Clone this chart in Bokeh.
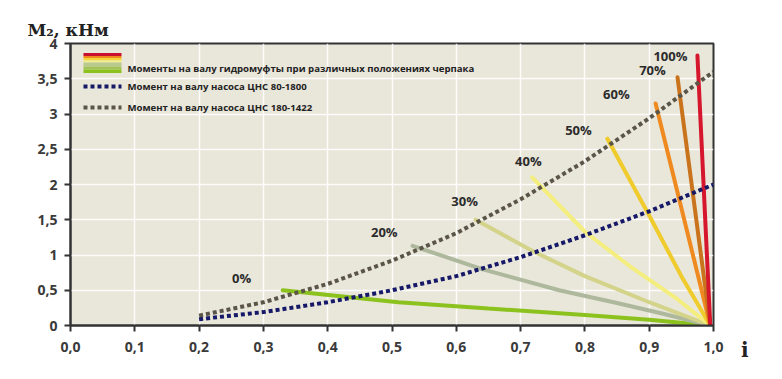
from bokeh.plotting import figure
from bokeh.models import ColumnDataSource, FixedTicker, Label, Range1d, Div
from bokeh.layouts import row
from bokeh.embed import file_html
from bokeh.resources import INLINE
from bokeh.core.properties import value

# ---------------- data ----------------
pump_i = [0.2, 0.3, 0.4, 0.5, 0.6, 0.7, 0.8, 0.9, 1.0]
pump_80_1800 = [0.09, 0.19, 0.33, 0.50, 0.70, 0.97, 1.28, 1.62, 2.00]
pump_180_1422 = [0.14, 0.33, 0.59, 0.92, 1.31, 1.79, 2.33, 2.94, 3.60]

scoop_names = ["0%", "20%", "30%", "40%", "50%", "60%", "70%", "100%"]
scoop_i = [
    [0.33, 0.51, 0.65, 0.80, 0.90, 0.995],
    [0.532, 0.64, 0.76, 0.85, 0.92, 0.995],
    [0.63, 0.72, 0.80, 0.90, 0.995],
    [0.718, 0.80, 0.87, 0.94, 0.995],
    [0.835, 0.90, 0.95, 0.995],
    [0.91, 0.995],
    [0.944, 0.995],
    [0.975, 0.995],
]
scoop_m = [
    [0.50, 0.33, 0.24, 0.15, 0.08, 0.0],
    [1.13, 0.80, 0.50, 0.32, 0.17, 0.0],
    [1.50, 1.05, 0.70, 0.33, 0.0],
    [2.10, 1.33, 0.84, 0.40, 0.0],
    [2.65, 1.56, 0.70, 0.0],
    [3.15, 0.0],
    [3.52, 0.0],
    [3.83, 0.0],
]
label_i = [0.266, 0.488, 0.613, 0.712, 0.790, 0.849, 0.905, 0.933]
label_m = [0.68, 1.33, 1.76, 2.33, 2.77, 3.28, 3.62, 3.82]

x_ticks = [0.0, 0.1, 0.2, 0.3, 0.4, 0.5, 0.6, 0.7, 0.8, 0.9, 1.0]
x_tick_labels = ["0,0", "0,1", "0,2", "0,3", "0,4", "0,5", "0,6", "0,7", "0,8", "0,9", "1,0"]
y_ticks = [0, 0.5, 1, 1.5, 2, 2.5, 3, 3.5, 4]
y_tick_labels = ["0", "0,5", "1", "1,5", "2", "2,5", "3", "3,5", "4"]

legend_texts = [
    "Моменты на валу гидромуфты при различных положениях черпака",
    "Момент на валу насоса ЦНС 80-1800",
    "Момент на валу насоса ЦНС 180-1422",
]
y_title = "M₂, кНм"
x_title = "i"

# ---------------- styles ----------------
scoop_colors = ["#8CC21E", "#ADB89C", "#D3D389", "#F4EE7E", "#EFCB2C", "#EE8A1F", "#C9731C", "#D6162C"]
blue = "#161868"
brown = "#5B5548"
bg = "#E9E6DA"
dark = "#333333"
font = "Open Sans"

p = figure(width=740, height=379, x_range=Range1d(0, 1), y_range=Range1d(0, 4),
           output_backend="svg", toolbar_location=None,
           min_border_left=70, min_border_right=27, min_border_top=43, min_border_bottom=54)
p.background_fill_color = bg
p.border_fill_color = "white"
p.outline_line_color = dark
p.outline_line_width = 2

p.title.text = y_title
p.title.align = "left"
p.title.offset = -43
p.title.standoff = 8
p.title.text_font = "DejaVu Serif"
p.title.text_font_style = "bold"
p.title.text_font_size = "17px"
p.title.text_color = "#222222"

p.xgrid.ticker = FixedTicker(ticks=x_ticks)
p.ygrid.ticker = FixedTicker(ticks=y_ticks)
p.grid.grid_line_color = "white"
p.grid.grid_line_width = 1.5
p.grid.grid_line_alpha = 0.85

for ax, ticks, labels in ((p.xaxis[0], x_ticks, x_tick_labels), (p.yaxis[0], y_ticks, y_tick_labels)):
    ax.ticker = FixedTicker(ticks=ticks)
    ax.major_label_overrides = {t: l for t, l in zip(ticks, labels)}
    ax.axis_line_color = dark
    ax.axis_line_width = 2
    ax.major_tick_line_color = dark
    ax.major_tick_line_width = 2
    ax.major_tick_out = 6
    ax.major_tick_in = 0
    ax.minor_tick_line_color = None
    ax.major_label_text_font = font
    ax.major_label_text_font_style = "bold"
    ax.major_label_text_font_size = "14px"
    ax.major_label_text_color = "#3a3a3a"
p.xaxis.major_label_standoff = 10
p.yaxis.major_label_standoff = 7

# scoop curves
for xs, ys, c in zip(scoop_i, scoop_m, scoop_colors):
    p.line(xs, ys, line_color=c, line_width=4, line_cap="round")

# pump curves
p.line(pump_i, pump_80_1800, line_color=blue, line_width=4, line_dash="4 3")
p.line(pump_i, pump_180_1422, line_color=brown, line_width=4, line_dash="4 3")

# percent labels
lab_src = ColumnDataSource(dict(x=label_i, y=label_m, t=scoop_names))
p.text(x="x", y="y", text="t", source=lab_src, text_font=value(font), text_font_style="bold",
       text_font_size="13px", text_color="#2b2b2b", text_align="center", text_baseline="middle")

# legend (manual)
stripe_colors = ["#C8102E", "#F08A1C", "#F5D43A", "#F2EE8E", "#BAC98C", "#A4C25A", "#8CC21E"]
stripe_edges = [3.865, 3.823, 3.794, 3.759, 3.730, 3.674, 3.631, 3.582]
p.quad(left=[0.0202] * 7, right=[0.0793] * 7, top=stripe_edges[:-1], bottom=stripe_edges[1:],
       fill_color=stripe_colors, line_color=None)
p.line([0.0202, 0.0793], [3.39, 3.39], line_color=blue, line_width=4, line_dash="4 3")
p.line([0.0202, 0.0793], [3.092, 3.092], line_color=brown, line_width=4, line_dash="4 3")
for t, yy in zip(legend_texts, [3.65, 3.39, 3.092]):
    p.add_layout(Label(x=0.0886, y=yy, text=t, text_font=font, text_font_style="bold",
                       text_font_size="9.6px", text_color="#222222", text_baseline="middle"))

# x axis title, to the right of the last tick label
x_lab = Div(text=x_title, width=42, height=40, margin=(340, 0, 0, 0),
            styles={"font-family": "DejaVu Serif", "font-weight": "bold", "font-size": "20px",
                    "color": "#222222", "padding-left": "1px", "line-height": "20px"})

layout = row(p, x_lab, spacing=0)
open("out.html", "w").write(file_html(layout, INLINE))
